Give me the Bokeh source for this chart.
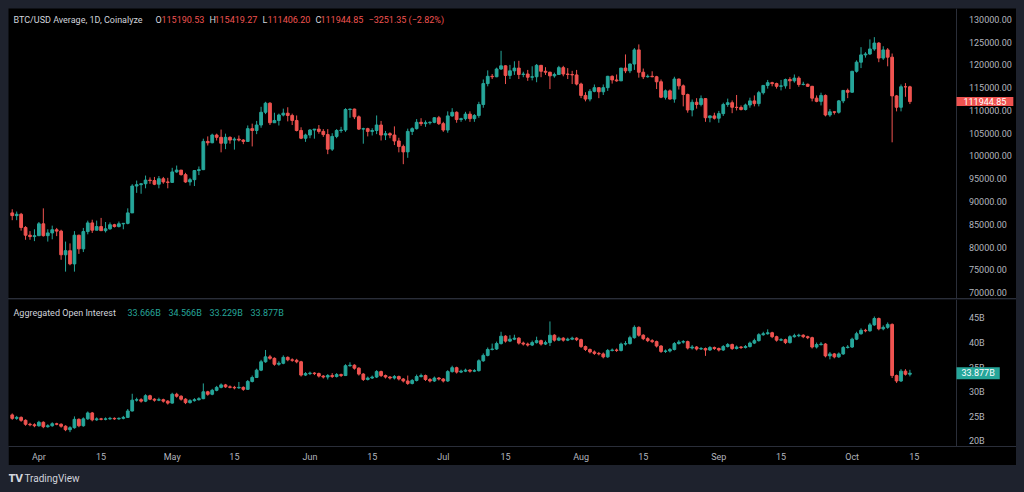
import pandas as pd
from bokeh.plotting import figure
from bokeh.models import (ColumnDataSource, Range1d, FixedTicker, NumeralTickFormatter,
                          CustomJSTickFormatter, Label, Spacer)
from bokeh.layouts import column
from bokeh.embed import file_html
from bokeh.resources import INLINE

# ---------------- data ----------------
FIRST_DAY = "2025-03-26"
LAST_DAY = "2025-10-14"
DATES = pd.date_range(FIRST_DAY, LAST_DAY, freq="D")

PRICE_OPEN = [
    87500, 86900, 87200, 84300, 82600, 82300,
    82500, 85100, 82500, 83100, 83800, 83500, 78300, 79200, 76300, 82600, 79600, 83400, 85300, 83700, 84500,
    83600, 84000, 84900, 84500, 85100, 85200, 87500, 93400, 93700, 93900, 94700, 94600, 93800, 95000, 94300,
    94200, 96500, 96900, 95900, 94300, 94800, 96800, 97000, 103200, 102900, 104600, 104100, 102800, 104100,
    103500, 103700, 103500, 103200, 106000, 105600, 106800, 109600, 111600, 107300, 107800, 109000, 109400,
    108900, 107800, 105600, 103900,
    104600, 105700, 105900, 105400, 104700, 101500, 104300, 105600, 105700, 110200, 110300, 108600, 105900,
    106000, 105400, 105600, 106800, 104600, 104900, 104600, 103300, 102100, 100900, 105400, 106000, 107400,
    107100, 107300, 107400, 108400,
    107100, 105700, 108800, 109600, 108000, 108200, 109200, 108200, 108900, 111300, 115900, 117500, 117400,
    119100, 119800, 117700, 118700, 119300, 117900, 118000, 117300, 117400, 119900, 118600, 118400, 117600,
    117900, 119400, 118000, 117900, 117800,
    115800, 113300, 112500, 114200, 115000, 114100, 115000, 117500, 116700, 116500, 119300, 118700, 120200,
    123300, 118400, 117400, 117500, 117400, 116300, 112900, 114300, 112500, 116900, 115400, 113500, 110100,
    111800, 111300, 112600, 108400, 108800,
    108300, 109300, 111300, 111700, 110700, 110650, 110200, 111200, 112100, 111500, 113900, 115500, 116100,
    115900, 115300, 115400, 116800, 116500, 117100, 115700, 115750, 115300, 112700, 112000, 113300, 109000,
    109700, 109600, 112100, 114400,
    114000, 118600, 120600, 122200, 122400, 123500, 124800, 121500, 123300, 121700, 113200, 110700, 115200,
    115190.53,
]
PRICE_HIGH = [
    88300, 87800, 87500, 84600, 83500, 83900,
    85500, 88500, 83900, 84700, 84200, 83800, 81200, 80800, 83500, 82700, 84200, 85800, 86000, 85800, 86400,
    85500, 85400, 85100, 85600, 85300, 88500, 93800, 94600, 94000, 95700, 95300, 95400, 95600, 95400, 95200,
    97400, 97900, 96900, 96300, 95200, 96900, 97700, 103800, 104300, 104900, 104900, 105800, 104900, 104300,
    104100, 104500, 103700, 106700, 107100, 107700, 110800, 111900, 111800, 109500, 109300, 110400, 110700,
    109300, 108900, 106300, 104900,
    105900, 105900, 106800, 105900, 105900, 105000, 105900, 106400, 110500, 110400, 110400, 108900, 106200,
    106200, 106100, 108900, 107700, 105500, 105200, 106500, 104000, 102500, 106000, 106300, 108100, 108300,
    107800, 107600, 108500, 108800,
    107500, 109800, 110500, 109800, 108400, 109700, 109800, 109200, 111900, 116800, 118800, 118000, 119400,
    123100, 119900, 120000, 120800, 120900, 118500, 118900, 119700, 120200, 120000, 119500, 118500, 118300,
    119800, 119800, 119300, 118700, 118900,
    116100, 114000, 114700, 115700, 115100, 115700, 117600, 117700, 117900, 119300, 122300, 120300, 123700,
    124500, 119200, 117900, 118600, 117600, 116800, 114600, 114600, 117400, 117000, 115700, 113700, 112400,
    112700, 113300, 112700, 108900, 109500,
    109900, 111700, 112600, 112200, 113400, 111100, 111500, 112800, 113300, 114300, 115500, 116700, 116300,
    116100, 116700, 117000, 117300, 117900, 117500, 116300, 115900, 115400, 113300, 113900, 113500, 110300,
    109800, 112300, 114400, 114800,
    118700, 121000, 123900, 122800, 125600, 126100, 125000, 124100, 123700, 122500, 113400, 115700, 116000,
    115419.27,
]
PRICE_LOW = [
    85900, 85900, 83600, 81600, 81600, 81300,
    82400, 82300, 81200, 81700, 82400, 77200, 74600, 76000, 74600, 78500, 78900, 82800, 83100, 83700, 83600,
    83200, 83800, 84300, 84300, 83900, 85000, 87500, 91900, 91700, 92900, 93900, 93600, 92900, 93900, 92900,
    94100, 96300, 95700, 94100, 93500, 93400, 95800, 96900, 102300, 102800, 103400, 100800, 101500, 102700,
    101400, 103200, 102600, 103100, 102100, 104800, 106200, 109200, 106800, 107300, 106700, 108700, 107600,
    106800, 105400, 103700, 103100,
    103900, 103800, 104900, 104200, 100400, 101100, 103900, 105100, 105300, 108400, 108100, 105700, 102700,
    104300, 104500, 104800, 103400, 103500, 103900, 102400, 100800, 98200, 99600, 104600, 105800, 106600,
    106400, 106900, 107200, 106800,
    105300, 105100, 108600, 107300, 107500, 107800, 107500, 107500, 108400, 110600, 115300, 116900, 117300,
    118900, 115800, 116900, 117800, 116900, 117300, 116500, 116600, 116200, 117300, 117800, 114700, 117200,
    117800, 117500, 116900, 115800, 115500,
    112700, 112000, 112000, 114000, 112700, 113400, 114300, 115900, 116300, 116500, 118200, 118200, 118900,
    117200, 116900, 117200, 117300, 114700, 112700, 112400, 112400, 111700, 114600, 110900, 109500, 108700,
    110400, 110900, 107500, 107400, 108000,
    107300, 108800, 110800, 109400, 110000, 110000, 110000, 110600, 110900, 110900, 113500, 114800, 115300,
    114800, 114400, 114800, 114700, 116100, 115200, 115500, 115200, 112000, 111800, 111100, 108700, 108600,
    109100, 109300, 111600, 112700,
    113900, 118300, 119300, 121600, 122200, 123100, 120600, 121100, 119700, 103000, 109800, 109800, 113000,
    111406.20,
]
PRICE_CLOSE = [
    86900, 87200, 84300, 82600, 82300, 82500,
    85100, 82500, 83100, 83800, 83500, 78300, 79200, 76300, 82600, 79600, 83400, 85300, 83700, 84500, 83600,
    84000, 84900, 84500, 85100, 85200, 87500, 93400, 93700, 93900, 94700, 94600, 93800, 95000, 94300, 94200,
    96500, 96900, 95900, 94300, 94800, 96800, 97000, 103200, 102900, 104600, 104100, 102800, 104100, 103500,
    103700, 103500, 103200, 106000, 105600, 106800, 109600, 111600, 107300, 107800, 109000, 109400, 108900,
    107800, 105600, 103900, 104600,
    105700, 105900, 105400, 104700, 101500, 104300, 105600, 105700, 110200, 110300, 108600, 105900, 106000,
    105400, 105600, 106800, 104600, 104900, 104600, 103300, 102100, 100900, 105400, 106000, 107400, 107100,
    107300, 107400, 108400, 107100,
    105700, 108800, 109600, 108000, 108200, 109200, 108200, 108900, 111300, 115900, 117500, 117400, 119100,
    119800, 117700, 118700, 119300, 117900, 118000, 117300, 117400, 119900, 118600, 118400, 117600, 117900,
    119400, 118000, 117900, 117800, 115800,
    113300, 112500, 114200, 115000, 114100, 115000, 117500, 116700, 116500, 119300, 118700, 120200, 123300,
    118400, 117400, 117500, 117400, 116300, 112900, 114300, 112500, 116900, 115400, 113500, 110100, 111800,
    111300, 112600, 108400, 108800, 108300,
    109300, 111300, 111700, 110700, 110650, 110200, 111200, 112100, 111500, 113900, 115500, 116100, 115900,
    115300, 115400, 116800, 116500, 117100, 115700, 115750, 115300, 112700, 112000, 113300, 109000, 109700,
    109600, 112100, 114400, 114000,
    118600, 120600, 122200, 122400, 123500, 124800, 121500, 123300, 121700, 113200, 110700, 115200, 115190.53,
    111944.85,
]

OI_OPEN = [
    25.4, 24.7, 24.9, 24.3, 23.5, 23.4,
    23.2, 23.9, 23.0, 23.2, 23.6, 23.5, 23.1, 22.4, 22.8, 24.5, 23.2, 24.6, 25.8, 24.4, 24.6, 24.5, 24.6, 24.7,
    24.6, 24.7, 24.9, 26.2, 28.4, 28.5, 28.2, 29.3, 28.6, 28.4, 28.5, 28.2,
    27.8, 29.6, 29.2, 28.6, 27.9, 28.3, 28.5, 28.7, 30.1, 29.6, 30.4, 31.0, 31.5, 31.1, 31.0, 30.9, 31.0, 30.6,
    32.2, 33.0, 34.5, 36.2, 37.2, 36.9, 35.7, 35.9, 37.1, 36.6, 36.5, 36.2, 33.5,
    33.8, 33.9, 33.8, 33.3, 33.1, 33.4, 33.2, 33.6, 33.4, 35.4, 35.5, 34.9, 33.7, 32.6, 32.9, 33.1, 34.2, 33.4,
    33.1, 32.9, 33.2, 32.7, 32.3, 31.8, 32.4, 33.2, 33.4, 32.6, 32.3, 32.9,
    32.7, 32.3, 34.2, 35.0, 34.1, 34.3, 34.5, 34.3, 34.4, 36.4, 37.5, 38.7, 38.8, 39.9, 41.4, 40.4, 40.8, 41.0,
    40.0, 39.8, 39.6, 40.1, 40.5, 39.8, 40.1, 41.6, 40.6, 41.0, 40.6, 40.8, 41.0,
    40.7, 39.3, 38.7, 38.2, 37.9, 37.8, 37.2, 38.5, 38.6, 38.5, 39.8, 39.9, 41.1, 43.2, 41.6, 40.9, 40.5, 40.3,
    39.4, 38.3, 38.4, 38.7, 39.9, 40.2, 40.3, 39.0, 39.2, 38.8, 38.9, 38.6, 39.1,
    38.9, 38.6, 39.3, 39.7, 38.9, 39.2, 39.1, 39.3, 40.0, 40.5, 41.7, 41.9, 42.1, 41.3, 40.6, 40.7, 40.1, 41.3,
    41.5, 41.6, 41.3, 41.1, 39.2, 39.7, 39.8, 37.4, 37.8, 37.2, 37.8, 39.1,
    39.2, 40.8, 41.9, 42.6, 42.5, 43.7, 45.0, 42.9, 43.2, 43.8, 33.4, 32.3, 34.3, 33.666,
]
OI_HIGH = [
    25.7, 25.2, 25.1, 24.5, 23.8, 23.7,
    24.2, 24.1, 23.5, 23.9, 23.8, 23.7, 23.3, 23.1, 25.1, 24.7, 24.9, 26.1, 26.0, 24.9, 24.8, 24.9, 25.0, 24.9,
    24.9, 25.2, 26.6, 29.7, 28.9, 28.8, 29.6, 29.5, 28.8, 28.9, 28.7, 28.4,
    29.9, 29.9, 29.4, 28.8, 28.6, 28.8, 29.0, 31.8, 30.3, 30.7, 31.3, 31.8, 31.7, 31.4, 31.3, 32.1, 31.2, 32.5,
    33.4, 34.8, 36.6, 38.6, 37.6, 37.1, 36.3, 37.5, 37.3, 36.9, 36.8, 36.4, 34.1,
    34.2, 34.1, 34.0, 33.5, 33.7, 33.9, 33.9, 33.8, 35.7, 36.1, 35.7, 35.1, 33.9, 33.2, 33.4, 34.5, 34.4, 33.6,
    33.3, 33.5, 33.4, 32.9, 33.4, 32.7, 33.6, 33.8, 33.6, 32.9, 33.2, 33.1,
    32.9, 34.5, 35.4, 35.2, 34.6, 34.8, 34.7, 34.7, 36.7, 37.9, 39.1, 39.9, 40.3, 42.3, 41.6, 41.6, 41.7, 41.2,
    40.3, 40.1, 40.5, 41.3, 40.7, 40.5, 44.4, 41.8, 41.3, 41.2, 41.1, 41.3, 41.2,
    40.9, 39.5, 38.9, 38.5, 38.2, 38.1, 38.8, 38.9, 38.9, 40.1, 40.4, 41.5, 43.6, 43.4, 41.8, 41.2, 40.8, 40.5,
    39.6, 38.7, 39.0, 40.2, 40.6, 40.6, 40.5, 39.6, 39.4, 39.2, 39.1, 39.4, 39.3,
    39.1, 39.6, 40.0, 39.9, 39.5, 39.4, 39.6, 40.3, 40.9, 42.0, 42.3, 42.8, 42.3, 41.5, 41.0, 40.9, 41.6, 41.9,
    41.9, 41.8, 41.5, 41.3, 40.1, 40.2, 40.0, 38.2, 38.0, 38.1, 39.4, 39.6,
    41.1, 42.3, 43.0, 42.9, 44.1, 45.4, 45.2, 43.6, 44.2, 44.0, 33.6, 34.7, 34.7, 34.566,
]
OI_LOW = [
    24.4, 24.4, 24.0, 23.2, 23.1, 22.9,
    23.0, 22.7, 22.8, 23.0, 23.3, 22.8, 22.1, 21.9, 22.6, 22.9, 23.0, 24.4, 24.1, 24.2, 24.3, 24.3, 24.4, 24.4,
    24.4, 24.5, 24.8, 26.1, 28.1, 27.9, 28.0, 28.4, 28.1, 28.2, 27.9, 27.5,
    27.7, 28.9, 28.3, 27.6, 27.7, 28.1, 28.3, 28.6, 29.3, 29.4, 30.2, 30.8, 30.9, 30.8, 30.6, 30.7, 30.3, 30.5,
    32.0, 32.9, 34.3, 36.0, 36.6, 35.4, 35.4, 35.7, 36.3, 36.2, 35.9, 33.2, 33.3,
    33.5, 33.5, 33.0, 32.8, 32.6, 32.9, 33.0, 33.1, 33.3, 35.2, 34.6, 33.4, 32.3, 32.4, 32.7, 32.9, 33.1, 32.8,
    32.6, 32.6, 32.4, 32.0, 31.5, 31.6, 32.2, 33.0, 32.3, 32.0, 32.1, 32.4,
    32.0, 32.1, 34.0, 33.8, 33.9, 34.1, 34.0, 34.1, 34.2, 36.2, 37.3, 38.5, 38.6, 39.7, 40.1, 40.2, 40.6, 39.7,
    39.5, 39.3, 39.4, 39.9, 39.5, 39.6, 39.4, 40.3, 40.4, 40.3, 40.4, 40.6, 40.4,
    39.0, 38.4, 37.9, 37.6, 37.5, 36.9, 37.0, 38.3, 38.2, 38.3, 39.5, 39.7, 40.9, 41.3, 40.6, 40.2, 40.0, 39.1,
    38.0, 38.0, 38.1, 38.5, 39.7, 39.9, 38.7, 38.7, 38.5, 38.6, 37.4, 38.4, 38.6,
    38.3, 38.4, 39.1, 38.6, 38.7, 38.8, 38.9, 39.1, 39.8, 40.3, 41.5, 41.7, 41.0, 40.3, 40.4, 39.8, 39.9, 41.1,
    41.2, 41.0, 40.8, 38.9, 38.9, 39.5, 37.1, 36.7, 36.9, 37.0, 37.6, 38.9,
    39.0, 40.6, 41.7, 42.2, 42.3, 43.5, 42.6, 42.6, 42.9, 32.9, 31.9, 32.1, 33.4, 33.229,
]
OI_CLOSE = [
    24.7, 24.9, 24.3, 23.5, 23.4, 23.2,
    23.9, 23.0, 23.2, 23.6, 23.5, 23.1, 22.4, 22.8, 24.5, 23.2, 24.6, 25.8, 24.4, 24.6, 24.5, 24.6, 24.7, 24.6,
    24.7, 24.9, 26.2, 28.4, 28.5, 28.2, 29.3, 28.6, 28.4, 28.5, 28.2, 27.8,
    29.6, 29.2, 28.6, 27.9, 28.3, 28.5, 28.7, 30.1, 29.6, 30.4, 31.0, 31.5, 31.1, 31.0, 30.9, 31.0, 30.6, 32.2,
    33.0, 34.5, 36.2, 37.2, 36.9, 35.7, 35.9, 37.1, 36.6, 36.5, 36.2, 33.5, 33.8,
    33.9, 33.8, 33.3, 33.1, 33.4, 33.2, 33.6, 33.4, 35.4, 35.5, 34.9, 33.7, 32.6, 32.9, 33.1, 34.2, 33.4, 33.1,
    32.9, 33.2, 32.7, 32.3, 31.8, 32.4, 33.2, 33.4, 32.6, 32.3, 32.9, 32.7,
    32.3, 34.2, 35.0, 34.1, 34.3, 34.5, 34.3, 34.4, 36.4, 37.5, 38.7, 38.8, 39.9, 41.4, 40.4, 40.8, 41.0, 40.0,
    39.8, 39.6, 40.1, 40.5, 39.8, 40.1, 41.6, 40.6, 41.0, 40.6, 40.8, 41.0, 40.7,
    39.3, 38.7, 38.2, 37.9, 37.8, 37.2, 38.5, 38.6, 38.5, 39.8, 39.9, 41.1, 43.2, 41.6, 40.9, 40.5, 40.3, 39.4,
    38.3, 38.4, 38.7, 39.9, 40.2, 40.3, 39.0, 39.2, 38.8, 38.9, 38.6, 39.1, 38.9,
    38.6, 39.3, 39.7, 38.9, 39.2, 39.1, 39.3, 40.0, 40.5, 41.7, 41.9, 42.1, 41.3, 40.6, 40.7, 40.1, 41.3, 41.5,
    41.6, 41.3, 41.1, 39.2, 39.7, 39.8, 37.4, 37.8, 37.2, 37.8, 39.1, 39.2,
    40.8, 41.9, 42.6, 42.5, 43.7, 45.0, 42.9, 43.2, 43.8, 33.4, 32.3, 34.3, 33.666, 33.877,
]

PRICE_TICKS = [70000, 75000, 80000, 85000, 90000, 95000, 100000, 105000, 110000, 115000, 120000, 125000, 130000]
OI_TICKS = [20, 25, 30, 35, 40, 45]
TICK_DATES = ["2025-04-01", "2025-04-15", "2025-05-01", "2025-05-15", "2025-06-01", "2025-06-15",
              "2025-07-01", "2025-07-15", "2025-08-01", "2025-08-15", "2025-09-01", "2025-09-15",
              "2025-10-01", "2025-10-15"]
TICK_LABELS = ["Apr", "15", "May", "15", "Jun", "15", "Jul", "15", "Aug", "15", "Sep", "15", "Oct", "15"]

SYMBOL_TITLE = "BTC/USD Average, 1D, Coinalyze"
OHLC_KEYS = ["O", "H", "L", "C"]
OHLC_LAST = ["115190.53", "115419.27", "111406.20", "111944.85"]
CHANGE_TEXT = "\u22123251.35 (\u22122.82%)"
LAST_PRICE_TEXT = "111944.85"
OI_TITLE = "Aggregated Open Interest"
OI_LAST = ["33.666B", "34.566B", "33.229B", "33.877B"]
LAST_OI_TEXT = "33.877B"

# ---------------- style ----------------
BG = "#000000"
BG_OUT = "#1e222d"
SEP = "#2a2e39"
TXT = "#d1d4dc"
AXT = "#b2b5be"
UP = "#26a69a"
DOWN = "#ef5350"
FONT = "Roboto"
FS = "9px"

n = len(DATES)
assert all(len(a) == n for a in [PRICE_OPEN, PRICE_HIGH, PRICE_LOW, PRICE_CLOSE,
                                 OI_OPEN, OI_HIGH, OI_LOW, OI_CLOSE])

W = 1008              # full width; the right price scale lives inside the frame
PANE_W = 947          # width of the candle area
PX_PER_DAY = 947 / 213.1
DAY_MS = 86400000
BODY_W = 0.62 * DAY_MS

x_start = pd.Timestamp("2025-04-01") - pd.Timedelta(days=6.84)
x_end = x_start + pd.Timedelta(days=W / PX_PER_DAY)
xr = Range1d(start=x_start, end=x_end)
axis_x = (x_start + pd.Timedelta(days=(PANE_W + 0.5) / PX_PER_DAY)).value / 1e6

P1_H = 290
P2_FRAME_H = 147
DATE_AXIS_H = 19
P1_Y = (68700, 132391)
P2_Y = (18.98, 48.86)


def style_y(p):
    ax = p.yaxis[0]
    ax.fixed_location = axis_x
    ax.axis_line_color = SEP
    ax.major_tick_line_color = None
    ax.minor_tick_line_color = None
    ax.major_label_text_color = AXT
    ax.major_label_text_font = FONT
    ax.major_label_text_font_size = FS
    ax.major_label_standoff = 7


def candles(p, o, h, l, c):
    colors = [UP if cc >= oo else DOWN for oo, cc in zip(o, c)]
    src = ColumnDataSource(dict(x=DATES, o=o, h=h, l=l, c=c, color=colors))
    p.segment(x0="x", y0="h", x1="x", y1="l", line_color="color", line_width=1, source=src)
    p.vbar(x="x", width=BODY_W, top="o", bottom="c", fill_color="color", line_color="color",
           line_width=1, source=src)


def lab(p, x, y, text, color, bg=None, pad=None):
    kw = {}
    if bg is not None:
        kw["background_fill_color"] = bg
    if pad is not None:
        kw["padding"] = pad
    p.add_layout(Label(x=x, y=y, x_units="screen", y_units="screen", text=text, text_color=color,
                       text_font=FONT, text_font_size=FS, text_baseline="middle",
                       text_align="left", **kw))


def screen_y(v, rng, h):
    return (v - rng[0]) / (rng[1] - rng[0]) * h


# ---------------- price pane ----------------
p1 = figure(width=W, height=P1_H, x_range=xr, y_range=Range1d(*P1_Y),
            x_axis_type="datetime", x_axis_location=None, y_axis_location="right",
            toolbar_location=None, output_backend="svg",
            min_border_left=0, min_border_right=0, min_border_top=0, min_border_bottom=0,
            background_fill_color=BG, border_fill_color=BG, outline_line_color=None)
p1.grid.visible = False
p1.yaxis.ticker = FixedTicker(ticks=PRICE_TICKS)
p1.yaxis.formatter = NumeralTickFormatter(format="0.00")
style_y(p1)
candles(p1, PRICE_OPEN, PRICE_HIGH, PRICE_LOW, PRICE_CLOSE)

ly = P1_H - 11
lab(p1, 5, ly, SYMBOL_TITLE, TXT)
for k, v, xk, xv in zip(OHLC_KEYS, OHLC_LAST, [147, 201, 254, 307], [153, 206, 259, 312]):
    lab(p1, xk, ly, k, TXT)
    lab(p1, xv, ly, v, DOWN)
lab(p1, 360, ly, CHANGE_TEXT, DOWN)
lab(p1, PANE_W + 1, screen_y(PRICE_CLOSE[-1], P1_Y, P1_H), LAST_PRICE_TEXT, "#ffffff", bg=DOWN,
    pad=dict(left=7, right=7, top=1, bottom=1))

sep = Spacer(width=W, height=1, styles={"background-color": SEP})

# ---------------- open interest pane ----------------
p2 = figure(width=W, height=P2_FRAME_H + DATE_AXIS_H, x_range=xr, y_range=Range1d(*P2_Y),
            x_axis_type="datetime", y_axis_location="right",
            toolbar_location=None, output_backend="svg",
            min_border_left=0, min_border_right=0, min_border_top=0, min_border_bottom=DATE_AXIS_H,
            background_fill_color=BG, border_fill_color=BG, outline_line_color=None)
p2.grid.visible = False
p2.yaxis.ticker = FixedTicker(ticks=OI_TICKS)
p2.yaxis.formatter = CustomJSTickFormatter(code="return tick + 'B';")
style_y(p2)

tick_ms = [int(pd.Timestamp(d).value // 10**6) for d in TICK_DATES]
xa = p2.xaxis[0]
xa.ticker = FixedTicker(ticks=tick_ms)
xa.formatter = CustomJSTickFormatter(
    args=dict(tick_vals=tick_ms, tick_names=TICK_LABELS),
    code="const i = tick_vals.indexOf(tick); return i >= 0 ? tick_names[i] : '';")
xa.axis_line_color = SEP
xa.major_tick_line_color = None
xa.minor_tick_line_color = None
xa.major_tick_out = 0
xa.major_tick_in = 0
xa.minor_tick_out = 0
xa.minor_tick_in = 0
xa.major_label_text_color = AXT
xa.major_label_text_font = FONT
xa.major_label_text_font_size = FS
xa.major_label_standoff = 5
candles(p2, OI_OPEN, OI_HIGH, OI_LOW, OI_CLOSE)

oy = P2_FRAME_H - 13
lab(p2, 5, oy, OI_TITLE, TXT)
for v, xv in zip(OI_LAST, [119, 160, 201, 242]):
    lab(p2, xv, oy, v, UP)
lab(p2, PANE_W + 1, screen_y(OI_CLOSE[-1], P2_Y, P2_FRAME_H), LAST_OI_TEXT, "#ffffff", bg=UP,
    pad=dict(left=5, right=5, top=1, bottom=1))

# ---------------- footer strip ----------------
strip = figure(width=W, height=19, x_range=Range1d(0, W), y_range=Range1d(0, 19),
               toolbar_location=None, output_backend="svg", x_axis_location=None, y_axis_location=None,
               min_border=0, background_fill_color=BG_OUT, border_fill_color=BG_OUT,
               outline_line_color=None)
strip.grid.visible = False
strip.add_layout(Label(x=0, y=6, x_units="screen", y_units="screen", text="TV", text_color=TXT,
                       text_font="DejaVu Sans", text_font_size="10px", text_font_style="bold",
                       text_baseline="middle"))
strip.add_layout(Label(x=16, y=6, x_units="screen", y_units="screen", text="TradingView",
                       text_color=TXT, text_font=FONT, text_font_size="10px", text_baseline="middle"))

layout = column(p1, sep, p2, strip, spacing=0)

html = file_html(layout, INLINE, title="BTC/USD Average")
html = html.replace("</head>",
                    "<style>html, body { background-color: " + BG_OUT + "; } "
                    "body { padding: 8px !important; }</style></head>", 1)
open("out.html", "w").write(html)
